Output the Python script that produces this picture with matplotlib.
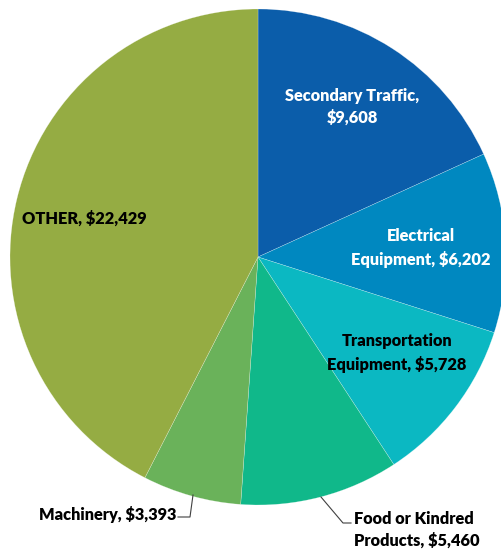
import matplotlib.pyplot as plt

# valores das fatias (sentido horario a partir do topo)
categorias = ["Secondary Traffic", "Electrical\nEquipment", "Transportation\nEquipment",
              "Food or Kindred\nProducts", "Machinery", "OTHER"]
valores = [9608, 6202, 5728, 5460, 3393, 22429]
cores = ["#0B5DAA", "#0088C0", "#0BB8C2", "#10B88A", "#6AB25A", "#95AC43"]

plt.rcParams['font.family'] = ['Lato', 'DejaVu Sans']

fig = plt.figure(figsize=(5.02, 5.5), dpi=100)
ax = fig.add_axes([0, 0, 1, 1])

# pie com y invertido -> counterclock=True vira horario na tela
ax.pie(valores, colors=cores, startangle=-90, counterclock=True,
       center=(258, 257), radius=248, frame=True,
       wedgeprops=dict(edgecolor=(1, 1, 1, 0.5), linewidth=0.3))
ax.set_xlim(0, 502)
ax.set_ylim(550, 0)
ax.axis("off")

def rotulo(nome, v):
    return f"{nome}, ${v:,}"

fs = 11.8
kw = dict(fontsize=fs, fontweight="heavy", linespacing=1.45)
ax.text(352, 107, "Secondary Traffic,\n$" + f"{valores[0]:,}", color="white",
        ha="center", va="center", **kw)
ax.text(421, 248, rotulo(categorias[1], valores[1]), color="white",
        ha="center", va="center", **kw)
ax.text(397, 353, rotulo(categorias[2], valores[2]), color="black",
        ha="center", va="center", **kw)
ax.text(22, 219, rotulo(categorias[5], valores[5]), color="black",
        ha="left", va="center", **kw)
ax.text(176, 515, rotulo(categorias[4], valores[4]), color="black",
        ha="right", va="center", **kw)
ax.text(354, 530, rotulo(categorias[3], valores[3]), color="black",
        ha="left", va="center", **kw)

# linhas de chamada
ax.plot([193, 190, 178], [495, 517, 517], color="#404040", lw=0.8)
ax.plot([321, 343, 351], [497, 523, 523], color="#404040", lw=0.8)

fig.savefig("out.png", dpi=100)
